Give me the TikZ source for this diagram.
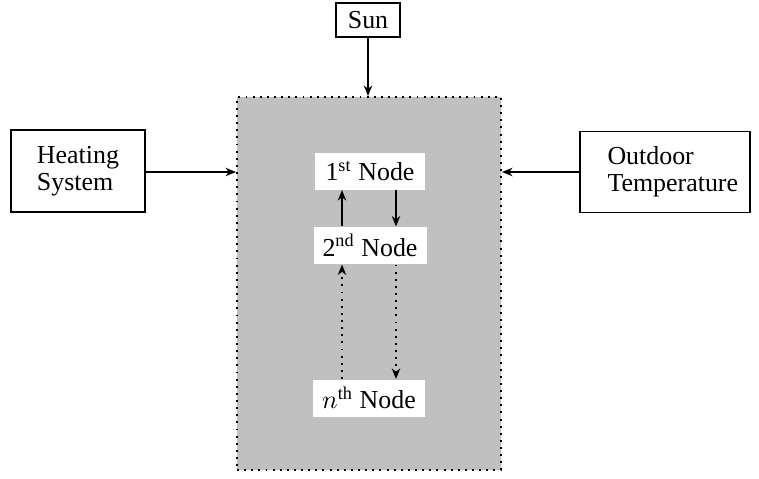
\documentclass[tikz,border=0pt]{standalone}
\usepackage{fontspec}
\setmainfont{Liberation Serif}
\usetikzlibrary{arrows.meta}
\definecolor{zonegray}{RGB}{192,192,192}
\begin{document}
\begin{tikzpicture}[x=0.386pt,y=-0.386pt,
  font=\fontsize{10}{10.5}\selectfont,
  outbox/.style={draw,line width=0.75pt,inner sep=0pt,align=left},
  statebox/.style={fill=white,inner sep=0pt,minimum width=110*0.386pt,minimum height=37*0.386pt},
  flow/.style={line width=0.75pt,-{Stealth[length=4pt,width=3.2pt,inset=1.2pt]}},
  dflow/.style={flow,dotted}]
\useasboundingbox (0,0) rectangle (759,478);
% the zone with its dotted outline
\node[draw,dotted,line width=0.75pt,fill=zonegray,inner sep=0pt,
  minimum width=264*0.386pt,minimum height=373*0.386pt] (zone) at (369,283.5) {};
% external influences
\node[outbox,minimum width=64*0.386pt,minimum height=34*0.386pt,align=center] (sun) at (368,20) {Sun};
\node[outbox,minimum width=134*0.386pt,minimum height=82*0.386pt] (heat) at (78,171) {Heating\\System};
\node[outbox,minimum width=170*0.386pt,minimum height=81*0.386pt] (out) at (665,172) {\hspace*{6pt}Outdoor\\\hspace*{6pt}Temperature};
% nodes inside the zone
\node[statebox] (n1) at (370,171) {1\textsuperscript{st} Node};
\node[statebox,minimum width=113*0.386pt] (n2) at (370,245.5) {2\textsuperscript{nd} Node};
\node[statebox,minimum width=112*0.386pt] (nn) at (369,398) {$n$\textsuperscript{th} Node};
% connectors
\draw[flow] (sun.south) -- (sun.south |- zone.north);
\draw[flow] (heat.east |- 0,172) -- (zone.west |- 0,172);
\draw[flow] (out.west |- 0,172) -- (zone.east |- 0,172);
\draw[flow] (n2.north -| 342,0) -- (n1.south -| 342,0);
\draw[flow] (n1.south -| 396,0) -- (n2.north -| 396,0);
\draw[dflow] (nn.north -| 342,0) -- (n2.south -| 342,0);
\draw[dflow] (n2.south -| 396,0) -- (nn.north -| 396,0);
\end{tikzpicture}
\end{document}
